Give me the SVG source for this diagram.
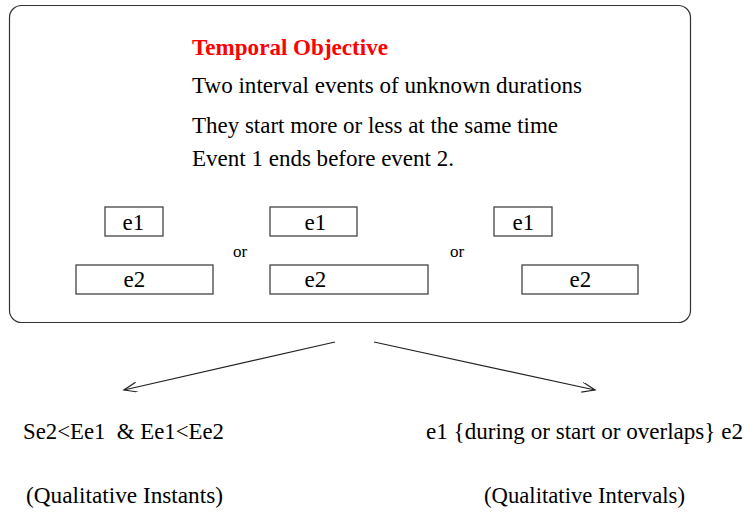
<svg xmlns="http://www.w3.org/2000/svg" width="745" height="512" viewBox="0 0 745 512">
<style>
  text { font-family: "Liberation Serif", "Times New Roman", serif; font-size: 23px; fill: #000; }
  .title { font-weight: bold; fill: #ff0000; }
  .small { font-size: 17px; }
  .frame { fill: #fff; stroke: #333; stroke-width: 1.2; }
  .box { fill: #fff; stroke: #444; stroke-width: 1.3; }
  .conn { stroke: #222; stroke-width: 1.2; fill: none; }
</style>
<defs>
  <marker id="open" markerUnits="userSpaceOnUse" markerWidth="16" markerHeight="12" refX="13" refY="5" orient="auto" viewBox="0 0 16 12">
    <path d="M0,0 L13,5 L0,10" fill="none" stroke="#222" stroke-width="1.2"/>
  </marker>
</defs>
<rect width="745" height="512" fill="#fff"/>
<g id="objective">
  <rect class="frame" x="9.5" y="5.5" width="681" height="317" rx="12" ry="12"/>
  <text class="title" x="192" y="55" textLength="196" lengthAdjust="spacingAndGlyphs">Temporal Objective</text>
  <text x="192" y="93" textLength="390" lengthAdjust="spacingAndGlyphs">Two interval events of unknown durations</text>
  <text x="192" y="132.5" textLength="366" lengthAdjust="spacingAndGlyphs">They start more or less at the same time</text>
  <text x="192" y="166" textLength="262" lengthAdjust="spacingAndGlyphs">Event 1 ends before event 2.</text>
</g>
<g id="case1">
  <rect class="box" x="105" y="207" width="58" height="29"/>
  <text x="122.5" y="230">e1</text>
  <rect class="box" x="76" y="265" width="137" height="29"/>
  <text x="123.5" y="287">e2</text>
</g>
<text id="or1" class="small" x="233" y="257">or</text>
<g id="case2">
  <rect class="box" x="270" y="207" width="87" height="29"/>
  <text x="304.5" y="230">e1</text>
  <rect class="box" x="270" y="265" width="158" height="29"/>
  <text x="304.5" y="287">e2</text>
</g>
<text id="or2" class="small" x="450" y="257">or</text>
<g id="case3">
  <rect class="box" x="494" y="207" width="58" height="29"/>
  <text x="512.5" y="230">e1</text>
  <rect class="box" x="522" y="265" width="116" height="29"/>
  <text x="569.5" y="287">e2</text>
</g>
<g id="connectors">
  <line class="conn" x1="335" y1="342" x2="124" y2="390" marker-end="url(#open)"/>
  <line class="conn" x1="374" y1="342" x2="595" y2="390" marker-end="url(#open)"/>
</g>
<g id="instants">
  <text x="23" y="439" xml:space="preserve" textLength="201" lengthAdjust="spacingAndGlyphs">Se2&lt;Ee1  &amp; Ee1&lt;Ee2</text>
  <text x="26" y="503" textLength="197" lengthAdjust="spacingAndGlyphs">(Qualitative Instants)</text>
</g>
<g id="intervals">
  <text x="426" y="439" textLength="317" lengthAdjust="spacingAndGlyphs">e1 {during or start or overlaps} e2</text>
  <text x="484" y="503" textLength="201" lengthAdjust="spacingAndGlyphs">(Qualitative Intervals)</text>
</g>
</svg>
